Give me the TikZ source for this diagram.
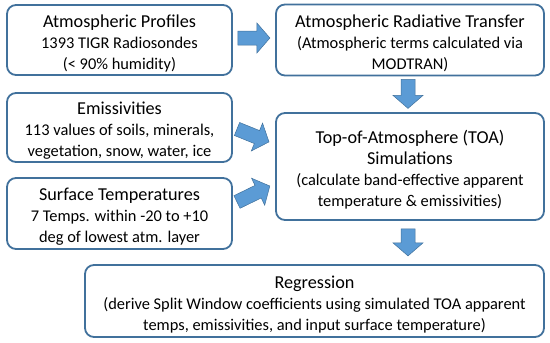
\documentclass[tikz,border=0pt]{standalone}
\usepackage{fontspec}
\setmainfont{Carlito}
\usetikzlibrary{calc}
\definecolor{boxblue}{HTML}{41719C}
\definecolor{arrowfill}{HTML}{5B9BD5}
\newcommand{\myBody}{\fontsize{16.4}{21}\selectfont}
\newcommand{\myTitle}{\fontsize{18.2}{21}\selectfont\rule{0pt}{19pt}}
\tikzset{
  box/.style={draw=boxblue, line width=1.8pt, rounded corners=9pt, align=center,
    inner sep=0pt, font=\myBody, text=black},
  pics/barrow/.style={code={
    \filldraw[fill=arrowfill, draw=boxblue, line width=0.5pt]
      (0pt,-7pt) -- ({#1-13pt},-7pt) -- ({#1-13pt},-15pt) -- (#1,0pt)
      -- ({#1-13pt},15pt) -- ({#1-13pt},7pt) -- (0pt,7pt) -- cycle;}}
}
\begin{document}
\begin{tikzpicture}[x=1pt,y=-1pt]
\useasboundingbox (0,0) rectangle (550,343);
\node[box, minimum width=225pt, minimum height=70pt] (prof) at (119.5,40)
  {{\myTitle Atmospheric Profiles}\\1393 TIGR Radiosondes\\(< 90\% humidity)};
\node[box, minimum width=268pt, minimum height=71pt] (art) at (410,40)
  {{\myTitle Atmospheric Radiative Transfer}\\(Atmospheric terms calculated via\\MODTRAN)};
\node[box, minimum width=225pt, minimum height=69pt] (emis) at (119.5,127.5)
  {{\myTitle Emissivities}\\113 values of soils, minerals,\\vegetation, snow, water, ice};
\node[box, minimum width=225pt, minimum height=71pt] (surf) at (119.5,213.5)
  {{\myTitle Surface Temperatures}\\7 Temps. within -20 to +10\\deg of lowest atm. layer};
\node[box, minimum width=268pt, minimum height=107pt] (toa) at (410,166.5)
  {{\myTitle Top-of-Atmosphere (TOA)}\\{\fontsize{18.2}{21}\selectfont Simulations}\\(calculate band-effective apparent\\temperature \& emissivities)};
\node[box, minimum width=459pt, minimum height=72pt] (reg) at (314.5,301)
  {{\myTitle Regression}\\(derive Split Window coefficients using simulated TOA apparent\\temps, emissivities, and input surface temperature)};
% block arrows
\pic at ($(prof.east)+(5,-2)$) {barrow=32pt};
\pic[rotate=-90] at ($(art.south)+(-2,3)$) {barrow=29pt};
\pic[rotate=-90] at ($(toa.south)+(-2,8)$) {barrow=27pt};
\pic[rotate=-22] at (237,129) {barrow=34.5pt};
\pic[rotate=26] at (237,202) {barrow=36.5pt};
\end{tikzpicture}
\end{document}
